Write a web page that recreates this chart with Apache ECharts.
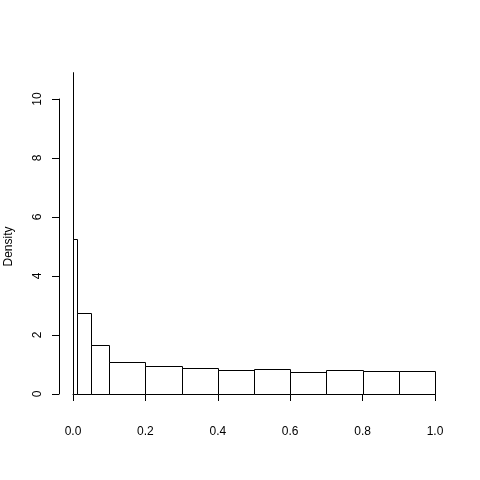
<!DOCTYPE html>
<html>
<head>
<meta charset="utf-8">
<script src="https://cdn.jsdelivr.net/npm/echarts@6/dist/echarts.min.js"></script>
<style>
  html, body { margin: 0; padding: 0; background: #fff; }
  #chart { width: 480px; height: 480px; }
</style>
</head>
<body>
<div id="chart"></div>
<script>
// histogram breaks and densities
const breaks = [0, 0.001, 0.01, 0.05, 0.1, 0.2, 0.3, 0.4, 0.5, 0.6, 0.7, 0.8, 0.9, 1.0];
const density = [10.9, 5.25, 2.76, 1.65, 1.085, 0.95, 0.87, 0.80, 0.84, 0.76, 0.80, 0.78, 0.78];
const xTicks = [0, 0.2, 0.4, 0.6, 0.8, 1.0];
const yTicks = [0, 2, 4, 6, 8, 10];

const bins = density.map((d, i) => [breaks[i], breaks[i + 1], d]);

const font = 'Liberation Sans, Arial, sans-serif';
const chart = echarts.init(document.getElementById('chart'), null, {renderer: 'canvas'});

chart.setOption({
    backgroundColor: '#fff',
    animation: false,
    grid: [
        {left: 73, right: 45, top: 69.5, bottom: 86},
        {left: 59, width: 1, top: 99, bottom: 86}
    ],
    xAxis: [{
        gridIndex: 0,
        type: 'value',
        min: 0,
        max: 1,
        interval: 0.2,
        offset: 22,
        axisLine: {show: true, lineStyle: {color: '#000', width: 1}},
        axisTick: {show: true, length: 7, lineStyle: {color: '#000'}},
        axisLabel: {
            color: '#000', fontSize: 12, fontFamily: font, margin: 10,
            formatter: (v) => xTicks.indexOf(v) >= 0 ? v.toFixed(1) : ''
        },
        splitLine: {show: false}
    }, {
        gridIndex: 1,
        type: 'value',
        show: false
    }],
    yAxis: [{
        gridIndex: 0,
        type: 'value',
        min: 0,
        max: 11,
        show: false
    }, {
        gridIndex: 1,
        type: 'value',
        min: 0,
        max: 10,
        interval: 2,
        name: 'Density',
        nameLocation: 'middle',
        nameRotate: 90,
        nameGap: 44,
        nameTextStyle: {color: '#000', fontSize: 12, fontFamily: font},
        axisLine: {show: true, lineStyle: {color: '#000', width: 1}},
        axisTick: {show: true, length: 7, lineStyle: {color: '#000'}},
        axisLabel: {
            color: '#000', fontSize: 12, fontFamily: font, margin: 15, rotate: 90,
            formatter: (v) => yTicks.indexOf(v) >= 0 ? String(v) : ''
        },
        splitLine: {show: false}
    }],
    series: [{
        type: 'custom',
        xAxisIndex: 0,
        yAxisIndex: 0,
        data: bins,
        renderItem: function (params, api) {
            const p0 = api.coord([api.value(0), api.value(2)]);
            const p1 = api.coord([api.value(1), 0]);
            const x0 = Math.round(p0[0]) + 0.5;
            const x1 = Math.round(p1[0]) + 0.5;
            const y0 = Math.round(p0[1]) + 0.5;
            const y1 = Math.round(p1[1]) + 0.5;
            return {
                type: 'rect',
                shape: {x: x0, y: y0, width: Math.max(x1 - x0, 0), height: y1 - y0},
                style: {fill: '#fff', stroke: '#000', lineWidth: 1}
            };
        }
    }]
});
</script>
</body>
</html>
